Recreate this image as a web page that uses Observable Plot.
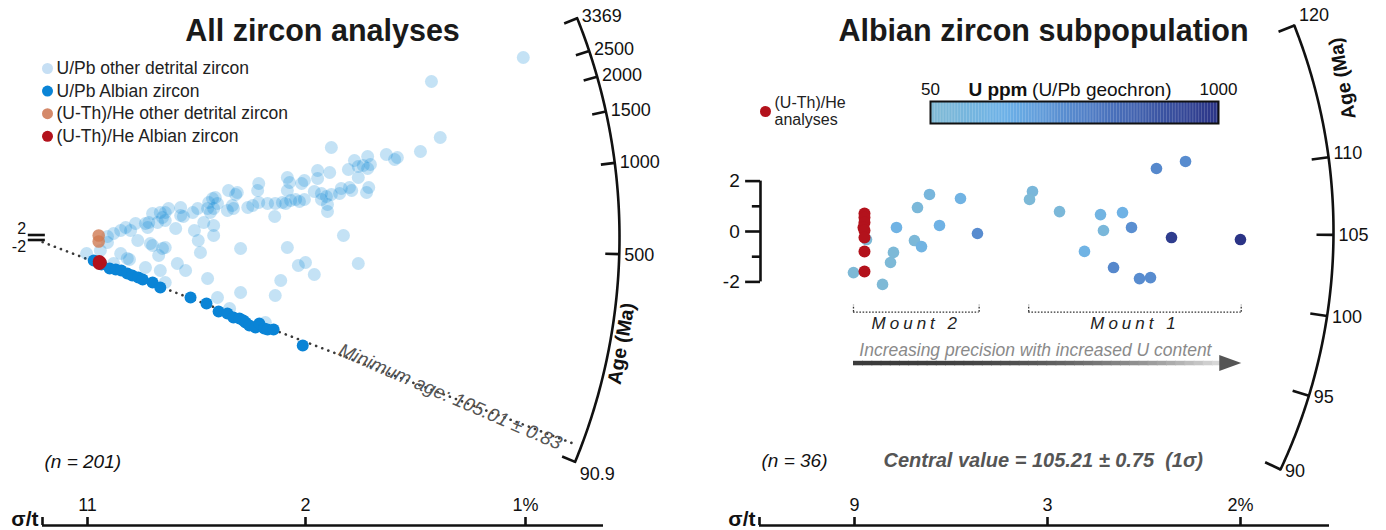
<!DOCTYPE html>
<html><head><meta charset="utf-8">
<script src="https://cdn.jsdelivr.net/npm/d3@7"></script>
<script src="https://cdn.jsdelivr.net/npm/@observablehq/plot@0.6"></script>
<style>
body{margin:0;background:#fff;}
#wrap{position:relative;width:1386px;height:530px;overflow:hidden;font-family:'Liberation Sans',Arial,sans-serif;}
#wrap svg{position:absolute;overflow:visible;}
</style></head><body><div id="wrap"></div>
<script>
// ================= DATA =================
// Left panel (radial plot): [precision t/σ, standardized estimate]
const upbOther = [
[89.6,144],[72.9,124.8],[74.5,80],[54.7,72],[64.7,66.4],[66.7,64],[66.2,62.4],[70.9,68.8],[61.3,64.8],[58.9,61.6],
[59.6,56.8],[60.5,57.6],[61.8,58.4],[61.3,55.2],[57.8,54.4],[52.2,53.6],[54.4,52],[46.7,48],[47.1,44],[49.8,45.6],
[49.3,43.2],[52.2,47.2],[59.6,48],[61.5,40],[61.1,36],[58.0,40],[58.4,37.6],[56.5,39.2],[51.6,36.8],[52.9,35.2],
[53.8,32.8],[54.7,34.4],[56.2,35.2],[52.9,30.4],[54.0,26.4],[54.0,20.8],[46.7,37.6],[44.5,27.2],[45.8,28],[46.4,27.2],
[47.3,29.6],[48.2,30.4],[48.9,28.8],[49.8,30.4],[44.4,16.8],[56.9,1.6],[41.5,43.2],[41.3,37.6],[37.6,36],[37.3,34.4],
[36.0,37.6],[33.1,31.2],[33.6,32],[32.4,28],[34.0,27.2],[33.3,23.2],[32.2,23.2],[32.7,20],[35.8,21.6],[36.9,23.2],
[36.7,25.6],[39.5,24],[40.4,25.6],[41.5,28],[43.1,27.2],[30.4,23.2],[31.5,12],[29.5,20],[27.3,24],[27.3,17.6],
[27.8,16.8],[25.1,23.2],[24.5,20],[24.0,16],[24.5,13.6],[22.2,19.2],[23.6,20],[23.1,12],[21.5,12],[20.9,11.2],
[21.3,8],[19.1,11.2],[17.3,8],[16.4,5.6],[15.1,3.2],[14.0,0.8],[26.4,7.2],[33.3,9.6],[33.3,1.6],[30.5,-2.4],
[38.2,-8.8],[19.5,-2.4],[21.8,-4.8],[24.5,-8],[24.0,-8.8],[23.3,-14.4],[16.4,-12.8],[17.6,-16.8],[18.0,-17.6],[20.9,-24],
[26.7,-20.8],[28.2,-26.4],[23.6,-26.4],[32.2,-32.8],[38.2,-44],[44.5,-46.4],[10.2,-12.8],[14.0,-4],[12.7,-10.4],[15.1,-20.8],
[24.5,-36],[34.0,-48],[46.7,-8],[30.9,-12],[22.2,-6.4],[48.7,-22.4],[50.0,-20],[51.6,-29.6],[45.5,-34.4],[36.2,-56.8],
[42.7,-68],[59.6,-20.8],[18.2,5.6],[29.8,5.6]
];
const upbAlbian = [
[11.5,-18.4],[12.9,-21.6],[14.4,-24.8],[15.5,-25.6],[16.5,-26.4],[17.6,-28.8],[18.5,-30.4],[19.6,-32],[20.4,-33.6],
[22.2,-36],[23.6,-40],[29.1,-48],[32.0,-52.8],[34.2,-59.2],[35.8,-60.8],[36.9,-64],[38.0,-64.8],[38.7,-66.4],
[39.1,-68],[39.8,-70.4],[40.9,-72],[41.6,-68.8],[42.5,-72.8],[43.1,-73.6],[44.2,-73.6],[49.5,-86.4]
];
const heOther = [[12.4,1.6],[12.4,-3.2]];
const heAlbianAll = [[12.5,-19.2],[12.5,-20.8],[12.7,-20]];
const leftAgeTicks = [90.9, 500, 1000, 1500, 2000, 2500, 3369];
const leftSigmaTicks = [11, 2, 1];
const leftLegendLabels = ["U/Pb other detrital zircon","U/Pb Albian zircon","(U-Th)/He other detrital zircon","(U-Th)/He Albian zircon"];
const minimumAge = 105.01, minimumAgeErr = 0.83;
const nLeft = 201;

// Right panel: [precision t/σ, standardized estimate, U ppm]
const albianUPb = [
[9.64,-1.63,70],[11.19,-0.32,80],[13.10,-2.10,75],[14.05,-1.23,90],[14.40,-0.83,85],[14.76,0.16,250],
[16.90,-0.36,100],[17.74,-0.60,230],[17.26,0.95,110],[18.69,1.47,150],[19.88,0.24,260],[22.38,1.31,240],
[24.40,-0.08,500],[30.95,1.59,130],[30.60,1.27,90],[34.17,0.79,110],[39.05,0.67,220],[41.67,0.75,260],
[39.40,0.04,120],[42.74,0.16,480],[37.14,-0.79,250],[40.60,-1.43,520],[43.69,-1.87,500],[45.0,-1.83,500],
[45.71,2.50,520],[49.17,2.78,500],[47.5,-0.24,950],[55.71,-0.32,1000]
];
const albianHe = [[10.95,0.71],[10.95,0.56],[10.95,0.36],[10.83,0.16],[10.95,0.04],[10.95,-0.24],[10.95,-0.79],[10.95,-1.59]];
const rightAgeTicks = [90, 95, 100, 105, 110, 120];
const rightSigmaTicks = [9, 3, 2];
const zTicks = [-2, -1, 0, 1, 2];
const mounts = [{name: "Mount 2", from: 9.64, to: 24.6}, {name: "Mount 1", from: 30.5, to: 55.8}];
const uDomain = [50, 300, 600, 1000];
const centralValue = 105.21, centralErr = 0.75;
const nRight = 36;

// ================= STYLE / GEOMETRY =================
const FONT = "'Liberation Sans', Arial, Helvetica, sans-serif";
const baseStyle = {fontFamily: FONT, fontSize: "15px", color: "#111", background: "transparent", overflow: "visible"};
const legendColors = ["#c6dff4", "#0a84d6", "#d4896a", "#b3121c"];
const uColor = {type: "linear", domain: uDomain, range: ["#80bad4", "#6cb1e8", "#4e79c2", "#2b3486"]};
const W = 693, H = 495;

function geometry(o) {
  const phi = t => Math.atan(o.k * Math.log(t / o.t0));
  const pt = (t, r) => [r * Math.cos(phi(t)) / o.sx, r * Math.sin(phi(t)) / o.sy];
  return {...o, phi, pt,
    xDomain: [-o.ox / o.sx, (o.W - o.ox) / o.sx],
    yDomain: [(o.oy - o.H) / o.sy, o.oy / o.sy]};
}
const GL = geometry({W, H, ox: 30, oy: 237, sx: 5.5, sy: 1.25, R: 589, k: 0.2251, t0: 567, tick: 14, up: 0, down: 28});
const GR = geometry({W, H, ox: 79, oy: 231, sx: 8.4, sy: 25.2, R: 561, k: 3, t0: 105.21, tick: 17, up: 22, down: 0});

function arcMarks(G, ticks) {
  const tmin = d3.min(ticks), tmax = d3.max(ticks);
  const arc = d3.range(0, 161).map(i => G.pt(tmin * Math.pow(tmax / tmin, i / 160), G.R));
  const shift = t => { const s = Math.sin(G.phi(t)); return (s > 0 ? s * G.up : s * G.down) / G.sy; };
  return [
    Plot.line(arc, {x: d => d[0], y: d => d[1], stroke: "#111", strokeWidth: 2.6}),
    Plot.link(ticks, {x1: t => G.pt(t, G.R - G.tick)[0], y1: t => G.pt(t, G.R - G.tick)[1],
                      x2: t => G.pt(t, G.R)[0], y2: t => G.pt(t, G.R)[1], stroke: "#111", strokeWidth: 2.6}),
    Plot.text(ticks, {x: t => G.pt(t, G.R + 5)[0], y: t => G.pt(t, G.R + 5)[1] + shift(t),
                      text: t => String(t), textAnchor: "start", lineAnchor: "middle", fontSize: 18, fill: "#111"})
  ];
}
function fixedText(str, dx, dy, opts = {}) {
  return Plot.text([str], {frameAnchor: "top-left", dx, dy, text: d => d, textAnchor: "middle", lineAnchor: "middle", ...opts});
}

// ================= LEFT PANEL =================
const leftLegend = leftLegendLabels.flatMap((label, i) => [
  Plot.dot([label], {frameAnchor: "top-left", dx: 47, dy: 68 + 22.6 * i, r: 5.5, fill: legendColors[i]}),
  fixedText(label, 56, 68 + 22.6 * i, {textAnchor: "start", fontSize: 17.5, fill: "#222"})
]);
const minPhiDeg = GL.phi(minimumAge) * 180 / Math.PI;
const left = Plot.plot({
  width: W, height: H, margin: 0,
  x: {domain: GL.xDomain, axis: null},
  y: {domain: GL.yDomain, axis: null},
  style: baseStyle,
  marks: [
    fixedText("All zircon analyses", 322, 31, {fontSize: 30.5, fontWeight: "bold", fill: "#1a1a1a"}),
    ...leftLegend,
    Plot.ruleY([2, -2], {x1: -0.4, x2: 2.7, stroke: "#111", strokeWidth: 2.6}),
    Plot.text([2], {x: -0.8, y: d => d, dy: -6.5, text: String, textAnchor: "end", fontSize: 16}),
    Plot.text([-2], {x: -0.8, y: d => d, dy: 6.5, text: String, textAnchor: "end", fontSize: 16}),
    Plot.link([minimumAge], {x1: t => GL.pt(t, 13)[0], y1: t => GL.pt(t, 13)[1],
                             x2: t => GL.pt(t, GL.R - 6)[0], y2: t => GL.pt(t, GL.R - 6)[1],
                             stroke: "#3a3a3a", strokeWidth: 2.6, strokeDasharray: "0.1 6.4", strokeLinecap: "round"}),
    ...arcMarks(GL, leftAgeTicks),
    fixedText("Age (Ma)", 621, 343, {rotate: -80, fontWeight: "bold", fontSize: 19.5}),
    Plot.dot(upbOther, {x: d => d[0], y: d => d[1], r: 6.5, fill: "#0a84d6", fillOpacity: 0.24}),
    Plot.dot(upbAlbian, {x: d => d[0], y: d => d[1], r: 6, fill: "#0a84d6"}),
    Plot.dot(heOther, {x: d => d[0], y: d => d[1], r: 6.3, fill: "#cf7b52", fillOpacity: 0.8}),
    Plot.dot(heAlbianAll, {x: d => d[0], y: d => d[1], r: 6.5, fill: "#b3121c"}),
    Plot.text([minimumAge], {x: t => GL.pt(t, 449)[0], y: t => GL.pt(t, 449)[1],
                             text: t => `Minimum age: ${t.toFixed(2)} ± ${minimumAgeErr.toFixed(2)}`,
                             rotate: -minPhiDeg + 2.5, fontStyle: "italic", fontSize: 19, fill: "#555"}),
    fixedText(`(n = ${nLeft})`, 44, 461, {textAnchor: "start", fontStyle: "italic", fontSize: 19})
  ]
});

// ================= RIGHT PANEL =================
const yAxisX = -1.43;
const arrowY = -5.22, arrowX0 = mounts[0].from, arrowTip = mounts[1].to;
const headLen = 22 / GR.sx;
const nSeg = 40;
const arrowSegs = d3.range(nSeg).map(i => ({
  a: arrowX0 + (arrowTip - headLen + 0.3 - arrowX0) * i / nSeg,
  b: arrowX0 + (arrowTip - headLen + 0.3 - arrowX0) * (i + 1.1) / nSeg,
  c: d3.interpolateRgb("#3b3b3b", "#d8d8d8")(Math.pow(i / (nSeg - 1), 2.4))
}));
const arrowHead = {draw(ctx) { ctx.moveTo(11, 0); ctx.lineTo(-11, -8); ctx.lineTo(-11, 8); ctx.closePath(); }};

const right = Plot.plot({
  width: W, height: H, margin: 0,
  x: {domain: GR.xDomain, axis: null},
  y: {domain: GR.yDomain, axis: null},
  color: uColor,
  style: baseStyle,
  marks: [
    fixedText("Albian zircon subpopulation", 350, 31, {fontSize: 30.5, fontWeight: "bold", fill: "#1a1a1a"}),
    Plot.dot(["(U-Th)/He analyses"], {frameAnchor: "top-left", dx: 72, dy: 111, r: 5.5, fill: "#b3121c"}),
    fixedText("(U-Th)/He\nanalyses", 81, 111, {textAnchor: "start", fontSize: 16, lineHeight: 1.05, fill: "#222"}),
    Plot.ruleX([yAxisX], {y1: -2, y2: 2, stroke: "#111", strokeWidth: 2.6}),
    Plot.ruleY(zTicks, {x1: d => d % 2 === 0 ? -3.2 : -2.4, x2: yAxisX, stroke: "#111", strokeWidth: 2.6}),
    Plot.text(zTicks.filter(d => d % 2 === 0), {x: -3.9, y: d => d, text: String, textAnchor: "end", fontSize: 19}),
    ...arcMarks(GR, rightAgeTicks),
    fixedText("Age (Ma)", 649, 78, {rotate: -100, fontWeight: "bold", fontSize: 19.5}),
    Plot.ruleY(mounts, {y: -3.2, x1: "from", x2: "to", stroke: "#333", strokeWidth: 1.3, strokeDasharray: "1.6 1.6"}),
    Plot.ruleX(mounts.flatMap(m => [m.from, m.to]), {y1: -3.2, y2: -2.93, stroke: "#333", strokeWidth: 1.3, strokeDasharray: "1.6 1.6"}),
    Plot.text(mounts, {x: d => (d.from + d.to) / 2, y: -3.65, text: "name", fontStyle: "italic", fontSize: 17, fill: "#222"}),
    Plot.text(["Increasing precision with increased U content"], {x: arrowX0 + 0.7, y: -4.72, text: d => d, textAnchor: "start", fontStyle: "italic", fontSize: 17.5, fill: "#8a8a8a"}),
    ...arrowSegs.map(s => Plot.ruleY([arrowY], {x1: s.a, x2: s.b, stroke: s.c, strokeWidth: 4.5})),
    Plot.dot([arrowTip], {x: d => d - 11 / GR.sx, y: arrowY, symbol: arrowHead, fill: "#555", stroke: "none"}),
    Plot.dot(albianUPb, {x: d => d[0], y: d => d[1], fill: d => d[2], r: 5.8}),
    Plot.dot(albianHe, {x: d => d[0], y: d => d[1], r: 6, fill: "#b3121c"}),
    fixedText(`(n = ${nRight})`, 68, 460, {textAnchor: "start", fontStyle: "italic", fontSize: 19}),
    fixedText(`Central value = ${centralValue.toFixed(2)} ± ${centralErr.toFixed(2)}\u00a0 (1σ)`, 190, 460,
              {textAnchor: "start", fontStyle: "italic", fontWeight: "bold", fontSize: 20, fill: "#555"})
  ]
});
d3.select(right).selectAll("text").filter(function() { return /^Mount/.test(this.textContent); }).attr("letter-spacing", "4px");

// ================= COLOR BAR =================
const colorbar = Plot.plot({
  width: 330, height: 46, marginLeft: 18, marginRight: 24, marginTop: 23, marginBottom: 1,
  x: {domain: [uDomain[0], uDomain[uDomain.length - 1]], axis: null},
  color: uColor,
  style: baseStyle,
  marks: [
    Plot.rect(d3.range(50, 1000, 5), {x1: d => d, x2: d => d + 5.5, fill: d => d}),
    Plot.frame({stroke: "#111", strokeWidth: 2}),
    Plot.text([50, 1000], {x: d => d, frameAnchor: "top", dy: -12, lineAnchor: "middle", text: String, fontSize: 17}),
    Plot.text(["U ppm"], {x: 370, frameAnchor: "top", dy: -12, lineAnchor: "middle", text: d => d, textAnchor: "end", fontWeight: "bold", fontSize: 19}),
    Plot.text(["(U/Pb geochron)"], {x: 385, frameAnchor: "top", dy: -12, lineAnchor: "middle", text: d => d, textAnchor: "start", fontSize: 19})
  ]
});

// ================= σ/t AXES =================
// y units of the strip: 1 unit = 5 px; axis line at y = 1, ticks up to y = 2.6, labels at y = 4
function sigmaStrip(sigmaTicks, stops, pixels) {
  const minS = d3.min(sigmaTicks);
  const pw = d3.scaleLinear().domain(stops).range(pixels);   // hand-drawn, piecewise σ/t axis
  const tickVals = sigmaTicks.map(s => 100 / s);
  return Plot.plot({
    width: W, height: 35, margin: 0,
    x: {transform: pw, domain: [0, W], range: [0, W], axis: null},
    y: {domain: [0, 7], range: [35, 0], axis: null},
    style: baseStyle,
    marks: [
      Plot.ruleY([1], {x1: stops[0], x2: stops[stops.length - 1], stroke: "#111", strokeWidth: 2.6}),
      Plot.ruleX([stops[0], ...tickVals], {y1: 1, y2: 2.6, stroke: "#111", strokeWidth: 2.6}),
      Plot.text(sigmaTicks, {x: s => 100 / s, y: 4, text: s => s === minS ? `${s}%` : String(s), lineAnchor: "bottom", fontSize: 18, fill: "#111"}),
      Plot.text(["σ/t"], {x: stops[0], y: 1.0, dx: -4, text: d => d, textAnchor: "end", lineAnchor: "bottom", fontSize: 21, fontWeight: "bold"})
    ]
  });
}
const leftStrip = sigmaStrip(leftSigmaTicks, [0, 100 / 11, 50, 100, 118], [42, 87, 305, 525, 603]);
const rightStrip = sigmaStrip(rightSigmaTicks, [0, 100 / 9, 100 / 3, 50, 60], [66, 161, 354, 547, 636]);

// ================= LAYOUT =================
const wrap = document.getElementById("wrap");
function place(el, x, y) { el.style.position = "absolute"; el.style.left = x + "px"; el.style.top = y + "px"; el.style.maxWidth = "none"; wrap.appendChild(el); }
place(left, 0, 0);
place(right, 693, 0);
place(leftStrip, 0, 495);
place(rightStrip, 693, 495);
place(colorbar, 912, 78);
</script></body></html>
